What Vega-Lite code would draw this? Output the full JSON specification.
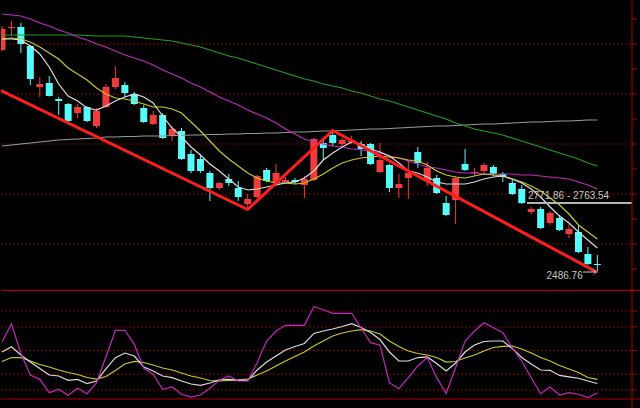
{
  "$schema": "https://vega.github.io/schema/vega-lite/v6.json",
  "background": "#000000",
  "padding": 0,
  "spacing": 0,
  "bounds": "flush",
  "config": {"view": {"stroke": null}, "scale": {"continuousPadding": 0}},
  "datasets": {
    "candles": [
      {"i":0,"o":3376,"h":3472,"l":3372,"c":3460,"m5":3420,"m10":3420,"m20":3520,"m60":3436,"m250":2992,"k":48.1,"d":36.1,"j":60.8},
      {"i":1,"o":3464,"h":3492,"l":3432,"c":3468,"m5":3420,"m10":3424,"m20":3516,"m60":3436,"m250":2996,"k":54.8,"d":41.1,"j":83.9},
      {"i":2,"o":3468,"h":3484,"l":3364,"c":3400,"m5":3416,"m10":3420,"m20":3512,"m60":3436,"m250":3000,"k":44.3,"d":41.1,"j":46.2},
      {"i":3,"o":3392,"h":3396,"l":3236,"c":3260,"m5":3392,"m10":3408,"m20":3500,"m60":3436,"m250":3004,"k":35.4,"d":36.7,"j":19.0},
      {"i":4,"o":3228,"h":3268,"l":3188,"c":3240,"m5":3360,"m10":3388,"m20":3484,"m60":3436,"m250":3008,"k":27.2,"d":32.3,"j":13.5},
      {"i":5,"o":3244,"h":3272,"l":3190,"c":3192,"m5":3308,"m10":3364,"m20":3472,"m60":3436,"m250":3012,"k":19.0,"d":29.1,"j":-3.4},
      {"i":6,"o":3180,"h":3188,"l":3116,"c":3172,"m5":3240,"m10":3340,"m20":3456,"m60":3436,"m250":3016,"k":17.7,"d":25.3,"j":0.9},
      {"i":7,"o":3160,"h":3164,"l":3084,"c":3092,"m5":3192,"m10":3304,"m20":3444,"m60":3436,"m250":3018,"k":12.3,"d":22.2,"j":-6.7},
      {"i":8,"o":3124,"h":3160,"l":3104,"c":3148,"m5":3172,"m10":3280,"m20":3428,"m60":3436,"m250":3020,"k":13.5,"d":19.6,"j":2.2},
      {"i":9,"o":3148,"h":3152,"l":3088,"c":3092,"m5":3144,"m10":3256,"m20":3416,"m60":3434,"m250":3022,"k":8.0,"d":15.8,"j":-4.7},
      {"i":10,"o":3072,"h":3144,"l":3064,"c":3132,"m5":3136,"m10":3224,"m20":3400,"m60":3432,"m250":3024,"k":11.4,"d":13.9,"j":9.2},
      {"i":11,"o":3148,"h":3240,"l":3144,"c":3228,"m5":3152,"m10":3200,"m20":3388,"m60":3432,"m250":3028,"k":26.6,"d":17.1,"j":42.0},
      {"i":12,"o":3228,"h":3312,"l":3220,"c":3264,"m5":3172,"m10":3184,"m20":3372,"m60":3432,"m250":3028,"k":40.9,"d":24.7,"j":75.6},
      {"i":13,"o":3236,"h":3248,"l":3188,"c":3204,"m5":3188,"m10":3180,"m20":3356,"m60":3432,"m250":3030,"k":46.8,"d":32.9,"j":75.6},
      {"i":14,"o":3200,"h":3208,"l":3156,"c":3160,"m5":3200,"m10":3172,"m20":3344,"m60":3428,"m250":3030,"k":43.0,"d":36.1,"j":57.8},
      {"i":15,"o":3144,"h":3156,"l":3084,"c":3088,"m5":3188,"m10":3160,"m20":3332,"m60":3424,"m250":3032,"k":29.1,"d":34.8,"j":27.5},
      {"i":16,"o":3080,"h":3132,"l":3076,"c":3116,"m5":3164,"m10":3148,"m20":3316,"m60":3420,"m250":3032,"k":24.1,"d":31.6,"j":19.9},
      {"i":17,"o":3116,"h":3124,"l":3020,"c":3024,"m5":3112,"m10":3148,"m20":3296,"m60":3416,"m250":3032,"k":17.7,"d":27.8,"j":0.9},
      {"i":18,"o":3036,"h":3072,"l":3012,"c":3060,"m5":3064,"m10":3140,"m20":3280,"m60":3412,"m250":3034,"k":15.6,"d":25.3,"j":3.8},
      {"i":19,"o":3052,"h":3064,"l":2936,"c":2940,"m5":3028,"m10":3124,"m20":3264,"m60":3404,"m250":3034,"k":11.4,"d":21.5,"j":-5.4},
      {"i":20,"o":2960,"h":2976,"l":2884,"c":2892,"m5":2988,"m10":3088,"m20":3244,"m60":3396,"m250":3036,"k":7.6,"d":17.7,"j":-8.9},
      {"i":21,"o":2940,"h":2960,"l":2884,"c":2892,"m5":2956,"m10":3052,"m20":3228,"m60":3388,"m250":3036,"k":5.9,"d":15.2,"j":-6.3},
      {"i":22,"o":2884,"h":2892,"l":2772,"c":2824,"m5":2920,"m10":3012,"m20":3208,"m60":3376,"m250":3038,"k":8.9,"d":12.0,"j":2.2},
      {"i":23,"o":2824,"h":2848,"l":2816,"c":2844,"m5":2892,"m10":2972,"m20":3188,"m60":3364,"m250":3038,"k":12.7,"d":11.4,"j":12.3},
      {"i":24,"o":2860,"h":2880,"l":2832,"c":2844,"m5":2860,"m10":2940,"m20":3172,"m60":3352,"m250":3040,"k":13.5,"d":12.0,"j":17.7},
      {"i":25,"o":2824,"h":2852,"l":2772,"c":2788,"m5":2828,"m10":2912,"m20":3156,"m60":3344,"m250":3040,"k":12.3,"d":12.7,"j":11.4},
      {"i":26,"o":2760,"h":2800,"l":2740,"c":2780,"m5":2816,"m10":2884,"m20":3136,"m60":3332,"m250":3042,"k":12.3,"d":13.9,"j":11.4},
      {"i":27,"o":2788,"h":2876,"l":2784,"c":2872,"m5":2820,"m10":2864,"m20":3120,"m60":3320,"m250":3042,"k":25.3,"d":19.0,"j":34.6},
      {"i":28,"o":2896,"h":2904,"l":2848,"c":2852,"m5":2828,"m10":2852,"m20":3104,"m60":3308,"m250":3044,"k":35.4,"d":24.1,"j":62.0},
      {"i":29,"o":2844,"h":2920,"l":2832,"c":2884,"m5":2836,"m10":2844,"m20":3084,"m60":3296,"m250":3044,"k":43.0,"d":30.4,"j":74.7},
      {"i":30,"o":2848,"h":2868,"l":2844,"c":2856,"m5":2844,"m10":2844,"m20":3060,"m60":3284,"m250":3046,"k":50.6,"d":36.7,"j":81.9},
      {"i":31,"o":2856,"h":2864,"l":2840,"c":2848,"m5":2848,"m10":2840,"m20":3040,"m60":3272,"m250":3048,"k":55.1,"d":42.4,"j":81.9},
      {"i":32,"o":2836,"h":2872,"l":2784,"c":2860,"m5":2864,"m10":2844,"m20":3020,"m60":3260,"m250":3048,"k":58.9,"d":48.1,"j":81.9},
      {"i":33,"o":2856,"h":3024,"l":2852,"c":3020,"m5":2892,"m10":2860,"m20":3008,"m60":3252,"m250":3050,"k":71.6,"d":55.7,"j":105.4},
      {"i":34,"o":3004,"h":3016,"l":2936,"c":2984,"m5":2936,"m10":2880,"m20":3000,"m60":3240,"m250":3052,"k":74.7,"d":62.0,"j":101.6},
      {"i":35,"o":3036,"h":3048,"l":2992,"c":3004,"m5":2964,"m10":2904,"m20":2992,"m60":3232,"m250":3052,"k":77.2,"d":68.4,"j":97.1},
      {"i":36,"o":3000,"h":3024,"l":2992,"c":3016,"m5":2988,"m10":2924,"m20":2988,"m60":3224,"m250":3054,"k":80.4,"d":72.2,"j":97.1},
      {"i":37,"o":3008,"h":3032,"l":3000,"c":3016,"m5":3008,"m10":2936,"m20":2980,"m60":3212,"m250":3056,"k":83.9,"d":74.7,"j":97.1},
      {"i":38,"o":3000,"h":3012,"l":2952,"c":2980,"m5":3000,"m10":2944,"m20":2976,"m60":3204,"m250":3058,"k":79.1,"d":76.3,"j":78.5},
      {"i":39,"o":3000,"h":3004,"l":2916,"c":2920,"m5":2980,"m10":2948,"m20":2972,"m60":3192,"m250":3060,"k":72.8,"d":74.7,"j":59.9},
      {"i":40,"o":2888,"h":3004,"l":2884,"c":2936,"m5":2968,"m10":2952,"m20":2964,"m60":3180,"m250":3060,"k":63.9,"d":70.9,"j":56.6},
      {"i":41,"o":2916,"h":2920,"l":2808,"c":2824,"m5":2952,"m10":2948,"m20":2952,"m60":3172,"m250":3062,"k":48.1,"d":62.0,"j":9.2},
      {"i":42,"o":2824,"h":2880,"l":2784,"c":2840,"m5":2924,"m10":2944,"m20":2944,"m60":3160,"m250":3064,"k":36.7,"d":55.1,"j":1.6},
      {"i":43,"o":2864,"h":2932,"l":2780,"c":2884,"m5":2892,"m10":2936,"m20":2932,"m60":3148,"m250":3066,"k":36.7,"d":49.4,"j":15.6},
      {"i":44,"o":2968,"h":2988,"l":2904,"c":2924,"m5":2884,"m10":2932,"m20":2920,"m60":3136,"m250":3068,"k":41.1,"d":46.2,"j":30.4},
      {"i":45,"o":2852,"h":2928,"l":2832,"c":2904,"m5":2868,"m10":2916,"m20":2908,"m60":3124,"m250":3070,"k":41.8,"d":44.3,"j":40.9},
      {"i":46,"o":2864,"h":2876,"l":2800,"c":2804,"m5":2848,"m10":2892,"m20":2904,"m60":3112,"m250":3072,"k":33.5,"d":41.1,"j":15.6},
      {"i":47,"o":2764,"h":2792,"l":2712,"c":2716,"m5":2840,"m10":2876,"m20":2896,"m60":3100,"m250":3072,"k":24.1,"d":35.4,"j":-4.2},
      {"i":48,"o":2776,"h":2872,"l":2680,"c":2864,"m5":2840,"m10":2868,"m20":2888,"m60":3084,"m250":3074,"k":34.2,"d":36.1,"j":28.2},
      {"i":49,"o":2920,"h":2980,"l":2892,"c":2896,"m5":2840,"m10":2864,"m20":2884,"m60":3072,"m250":3076,"k":48.1,"d":40.5,"j":62.0},
      {"i":50,"o":2884,"h":2904,"l":2872,"c":2888,"m5":2848,"m10":2872,"m20":2884,"m60":3060,"m250":3078,"k":57.0,"d":44.3,"j":74.7},
      {"i":51,"o":2892,"h":2924,"l":2880,"c":2916,"m5":2860,"m10":2880,"m20":2880,"m60":3052,"m250":3080,"k":61.4,"d":49.4,"j":85.2},
      {"i":52,"o":2908,"h":2916,"l":2872,"c":2880,"m5":2868,"m10":2876,"m20":2880,"m60":3044,"m250":3080,"k":62.0,"d":53.8,"j":78.9},
      {"i":53,"o":2880,"h":2888,"l":2848,"c":2868,"m5":2872,"m10":2872,"m20":2880,"m60":3036,"m250":3082,"k":62.0,"d":55.1,"j":72.5},
      {"i":54,"o":2844,"h":2860,"l":2796,"c":2800,"m5":2860,"m10":2860,"m20":2880,"m60":3024,"m250":3084,"k":52.5,"d":55.7,"j":53.2},
      {"i":55,"o":2820,"h":2836,"l":2760,"c":2764,"m5":2844,"m10":2848,"m20":2876,"m60":3012,"m250":3086,"k":41.1,"d":51.9,"j":36.7},
      {"i":56,"o":2728,"h":2748,"l":2720,"c":2740,"m5":2820,"m10":2832,"m20":2876,"m60":3000,"m250":3088,"k":32.9,"d":46.8,"j":15.6},
      {"i":57,"o":2740,"h":2748,"l":2660,"c":2664,"m5":2788,"m10":2812,"m20":2872,"m60":2988,"m250":3088,"k":25.3,"d":41.1,"j":-4.7},
      {"i":58,"o":2684,"h":2732,"l":2676,"c":2724,"m5":2748,"m10":2784,"m20":2868,"m60":2976,"m250":3090,"k":24.9,"d":36.7,"j":3.8},
      {"i":59,"o":2704,"h":2716,"l":2652,"c":2656,"m5":2712,"m10":2756,"m20":2864,"m60":2964,"m250":3092,"k":18.4,"d":31.0,"j":-6.3},
      {"i":60,"o":2640,"h":2680,"l":2624,"c":2660,"m5":2684,"m10":2720,"m20":2860,"m60":2952,"m250":3092,"k":16.7,"d":26.6,"j":-3.4},
      {"i":61,"o":2648,"h":2672,"l":2564,"c":2568,"m5":2648,"m10":2676,"m20":2848,"m60":2940,"m250":3094,"k":14.9,"d":22.2,"j":-5.4},
      {"i":62,"o":2560,"h":2588,"l":2516,"c":2520,"m5":2616,"m10":2648,"m20":2836,"m60":2924,"m250":3096,"k":11.4,"d":15.8,"j":-9.7},
      {"i":63,"o":2520,"h":2556,"l":2486.76,"c":2516,"m5":2584,"m10":2620,"m20":2820,"m60":2912,"m250":3096,"k":8.2,"d":13.5,"j":-3.4}
    ],
    "zig": [
      {"i":-0.1058,"p":3214},
      {"i":26,"p":2738},
      {"i":35,"p":3054},
      {"i":63,"p":2486.76}
    ],
    "grid1": [{"lv":2600},{"lv":2800},{"lv":3000},{"lv":3200},{"lv":3400}],
    "ticks1": [{"lv":2500},{"lv":2600},{"lv":2700},{"lv":2800},{"lv":2900},{"lv":3000},{"lv":3100},{"lv":3200},{"lv":3300},{"lv":3400},{"lv":3500}],
    "grid2": [{"lv":0},{"lv":20},{"lv":50},{"lv":80},{"lv":100}]
  },
  "vconcat": [
    {
      "width": 640,
      "height": 289,
      "layer": [
        {
          "data": {"name": "grid1"},
          "mark": {"type": "rule", "color": "#8a0000", "strokeDash": [2, 2], "strokeWidth": 1},
          "encoding": {
            "x": {"datum": -0.1058, "type": "quantitative", "scale": {"domain": [-0.1058, 67.619], "nice": false, "zero": false, "padding": 0}, "axis": null},
            "x2": {"datum": 66.667},
            "y": {"field": "lv", "type": "quantitative", "scale": {"domain": [2416, 3572], "nice": false, "zero": false, "padding": 0}, "axis": null}
          }
        },
        {
          "data": {"name": "candles"},
          "mark": {"type": "rule", "strokeWidth": 1, "clip": true},
          "encoding": {
            "x": {"field": "i", "type": "quantitative", "scale": {"domain": [-0.1058, 67.619], "nice": false, "zero": false, "padding": 0}, "axis": null},
            "y": {"field": "l", "type": "quantitative", "scale": {"domain": [2416, 3572], "nice": false, "zero": false, "padding": 0}, "axis": null},
            "y2": {"field": "h"},
            "color": {"condition": {"test": "datum.c > datum.o", "value": "#f03c3c"}, "value": "#54fcfc"}
          }
        },
        {
          "data": {"name": "candles"},
          "mark": {"type": "bar", "size": 7, "clip": true},
          "encoding": {
            "x": {"field": "i", "type": "quantitative", "scale": {"domain": [-0.1058, 67.619], "nice": false, "zero": false, "padding": 0}, "axis": null},
            "y": {"field": "o", "type": "quantitative", "scale": {"domain": [2416, 3572], "nice": false, "zero": false, "padding": 0}, "axis": null},
            "y2": {"field": "c"},
            "color": {"condition": {"test": "datum.c > datum.o", "value": "#f03c3c"}, "value": "#54fcfc"}
          }
        },
        {
          "data": {"name": "candles"},
          "mark": {"type": "line", "color": "#9a9a9a", "strokeWidth": 1.2, "clip": true},
          "encoding": {
            "x": {"field": "i", "type": "quantitative", "scale": {"domain": [-0.1058, 67.619], "nice": false, "zero": false, "padding": 0}, "axis": null},
            "y": {"field": "m250", "type": "quantitative", "scale": {"domain": [2416, 3572], "nice": false, "zero": false, "padding": 0}, "axis": null}
          }
        },
        {
          "data": {"name": "candles"},
          "mark": {"type": "line", "color": "#1ea01e", "strokeWidth": 1.2, "clip": true},
          "encoding": {
            "x": {"field": "i", "type": "quantitative", "scale": {"domain": [-0.1058, 67.619], "nice": false, "zero": false, "padding": 0}, "axis": null},
            "y": {"field": "m60", "type": "quantitative", "scale": {"domain": [2416, 3572], "nice": false, "zero": false, "padding": 0}, "axis": null}
          }
        },
        {
          "data": {"name": "candles"},
          "mark": {"type": "line", "color": "#c028c0", "strokeWidth": 1.2, "clip": true},
          "encoding": {
            "x": {"field": "i", "type": "quantitative", "scale": {"domain": [-0.1058, 67.619], "nice": false, "zero": false, "padding": 0}, "axis": null},
            "y": {"field": "m20", "type": "quantitative", "scale": {"domain": [2416, 3572], "nice": false, "zero": false, "padding": 0}, "axis": null}
          }
        },
        {
          "data": {"name": "candles"},
          "mark": {"type": "line", "color": "#c8c828", "strokeWidth": 1.2, "clip": true},
          "encoding": {
            "x": {"field": "i", "type": "quantitative", "scale": {"domain": [-0.1058, 67.619], "nice": false, "zero": false, "padding": 0}, "axis": null},
            "y": {"field": "m10", "type": "quantitative", "scale": {"domain": [2416, 3572], "nice": false, "zero": false, "padding": 0}, "axis": null}
          }
        },
        {
          "data": {"name": "candles"},
          "mark": {"type": "line", "color": "#dcdcdc", "strokeWidth": 1.2, "clip": true},
          "encoding": {
            "x": {"field": "i", "type": "quantitative", "scale": {"domain": [-0.1058, 67.619], "nice": false, "zero": false, "padding": 0}, "axis": null},
            "y": {"field": "m5", "type": "quantitative", "scale": {"domain": [2416, 3572], "nice": false, "zero": false, "padding": 0}, "axis": null}
          }
        },
        {
          "data": {"name": "zig"},
          "mark": {"type": "line", "color": "#ff1e1e", "strokeWidth": 3, "clip": true},
          "encoding": {
            "x": {"field": "i", "type": "quantitative", "scale": {"domain": [-0.1058, 67.619], "nice": false, "zero": false, "padding": 0}, "axis": null},
            "y": {"field": "p", "type": "quantitative", "scale": {"domain": [2416, 3572], "nice": false, "zero": false, "padding": 0}, "axis": null}
          }
        },
        {
          "data": {"values": [{}]},
          "mark": {"type": "rule", "color": "#b4b4b4", "strokeWidth": 2},
          "encoding": {
            "x": {"datum": 55.56, "type": "quantitative", "scale": {"domain": [-0.1058, 67.619], "nice": false, "zero": false, "padding": 0}, "axis": null},
            "x2": {"datum": 66.667},
            "y": {"datum": 2763.54, "type": "quantitative", "scale": {"domain": [2416, 3572], "nice": false, "zero": false, "padding": 0}, "axis": null}
          }
        },
        {
          "data": {"values": [{}]},
          "mark": {"type": "text", "align": "left", "baseline": "alphabetic", "font": "Liberation Sans", "fontSize": 10, "color": "#c8c8c8", "text": "2771.86 - 2763.54"},
          "encoding": {
            "x": {"datum": 55.66, "type": "quantitative", "scale": {"domain": [-0.1058, 67.619], "nice": false, "zero": false, "padding": 0}, "axis": null},
            "y": {"datum": 2778.8, "type": "quantitative", "scale": {"domain": [2416, 3572], "nice": false, "zero": false, "padding": 0}, "axis": null}
          }
        },
        {
          "data": {"values": [{}]},
          "mark": {"type": "text", "align": "right", "baseline": "alphabetic", "font": "Liberation Sans", "fontSize": 10, "color": "#c8c8c8", "text": "2486.76"},
          "encoding": {
            "x": {"datum": 61.45, "type": "quantitative", "scale": {"domain": [-0.1058, 67.619], "nice": false, "zero": false, "padding": 0}, "axis": null},
            "y": {"datum": 2458.8, "type": "quantitative", "scale": {"domain": [2416, 3572], "nice": false, "zero": false, "padding": 0}, "axis": null}
          }
        },
        {
          "data": {"values": [{}]},
          "mark": {"type": "rule", "color": "#c8c8c8", "strokeWidth": 1},
          "encoding": {
            "x": {"datum": 61.5, "type": "quantitative", "scale": {"domain": [-0.1058, 67.619], "nice": false, "zero": false, "padding": 0}, "axis": null},
            "x2": {"datum": 62.85},
            "y": {"datum": 2488, "type": "quantitative", "scale": {"domain": [2416, 3572], "nice": false, "zero": false, "padding": 0}, "axis": null}
          }
        },
        {
          "data": {"values": [{}]},
          "mark": {"type": "point", "shape": "M-1,-1L0,0L-1,1", "filled": false, "size": 30, "color": "#c8c8c8", "strokeWidth": 1},
          "encoding": {
            "x": {"datum": 62.85, "type": "quantitative", "scale": {"domain": [-0.1058, 67.619], "nice": false, "zero": false, "padding": 0}, "axis": null},
            "y": {"datum": 2488, "type": "quantitative", "scale": {"domain": [2416, 3572], "nice": false, "zero": false, "padding": 0}, "axis": null}
          }
        },
        {
          "data": {"values": [{}]},
          "mark": {"type": "rule", "color": "#b00000", "strokeWidth": 1},
          "encoding": {
            "x": {"datum": 66.667, "type": "quantitative", "scale": {"domain": [-0.1058, 67.619], "nice": false, "zero": false, "padding": 0}, "axis": null}
          }
        },
        {
          "data": {"name": "ticks1"},
          "mark": {"type": "rule", "color": "#b00000", "strokeWidth": 1},
          "encoding": {
            "x": {"datum": 66.667, "type": "quantitative", "scale": {"domain": [-0.1058, 67.619], "nice": false, "zero": false, "padding": 0}, "axis": null},
            "x2": {"datum": 67.2},
            "y": {"field": "lv", "type": "quantitative", "scale": {"domain": [2416, 3572], "nice": false, "zero": false, "padding": 0}, "axis": null}
          }
        }
      ]
    },
    {
      "width": 640,
      "height": 119,
      "layer": [
        {
          "data": {"name": "grid2"},
          "mark": {"type": "rule", "color": "#8a0000", "strokeDash": [2, 2], "strokeWidth": 1},
          "encoding": {
            "x": {"datum": -0.1058, "type": "quantitative", "scale": {"domain": [-0.1058, 67.619], "nice": false, "zero": false, "padding": 0}, "axis": null},
            "x2": {"datum": 66.667},
            "y": {"field": "lv", "type": "quantitative", "scale": {"domain": [-24.05, 126.58], "nice": false, "zero": false, "padding": 0}, "axis": null}
          }
        },
        {
          "data": {"values": [{"lv": 126.0}, {"lv": -11.39}]},
          "mark": {"type": "rule", "color": "#b00000", "strokeWidth": 1.2},
          "encoding": {
            "y": {"field": "lv", "type": "quantitative", "scale": {"domain": [-24.05, 126.58], "nice": false, "zero": false, "padding": 0}, "axis": null}
          }
        },
        {
          "data": {"name": "candles"},
          "mark": {"type": "line", "color": "#c8c828", "strokeWidth": 1.2, "clip": true},
          "encoding": {
            "x": {"field": "i", "type": "quantitative", "scale": {"domain": [-0.1058, 67.619], "nice": false, "zero": false, "padding": 0}, "axis": null},
            "y": {"field": "d", "type": "quantitative", "scale": {"domain": [-24.05, 126.58], "nice": false, "zero": false, "padding": 0}, "axis": null}
          }
        },
        {
          "data": {"name": "candles"},
          "mark": {"type": "line", "color": "#dcdcdc", "strokeWidth": 1.2, "clip": true},
          "encoding": {
            "x": {"field": "i", "type": "quantitative", "scale": {"domain": [-0.1058, 67.619], "nice": false, "zero": false, "padding": 0}, "axis": null},
            "y": {"field": "k", "type": "quantitative", "scale": {"domain": [-24.05, 126.58], "nice": false, "zero": false, "padding": 0}, "axis": null}
          }
        },
        {
          "data": {"name": "candles"},
          "mark": {"type": "line", "color": "#c028c0", "strokeWidth": 1.2, "clip": true},
          "encoding": {
            "x": {"field": "i", "type": "quantitative", "scale": {"domain": [-0.1058, 67.619], "nice": false, "zero": false, "padding": 0}, "axis": null},
            "y": {"field": "j", "type": "quantitative", "scale": {"domain": [-24.05, 126.58], "nice": false, "zero": false, "padding": 0}, "axis": null}
          }
        },
        {
          "data": {"values": [{}]},
          "mark": {"type": "rule", "color": "#b00000", "strokeWidth": 1},
          "encoding": {
            "x": {"datum": 66.667, "type": "quantitative", "scale": {"domain": [-0.1058, 67.619], "nice": false, "zero": false, "padding": 0}, "axis": null}
          }
        },
        {
          "data": {"name": "grid2"},
          "mark": {"type": "rule", "color": "#b00000", "strokeWidth": 1},
          "encoding": {
            "x": {"datum": 66.667, "type": "quantitative", "scale": {"domain": [-0.1058, 67.619], "nice": false, "zero": false, "padding": 0}, "axis": null},
            "x2": {"datum": 67.2},
            "y": {"field": "lv", "type": "quantitative", "scale": {"domain": [-24.05, 126.58], "nice": false, "zero": false, "padding": 0}, "axis": null}
          }
        }
      ]
    }
  ]
}
